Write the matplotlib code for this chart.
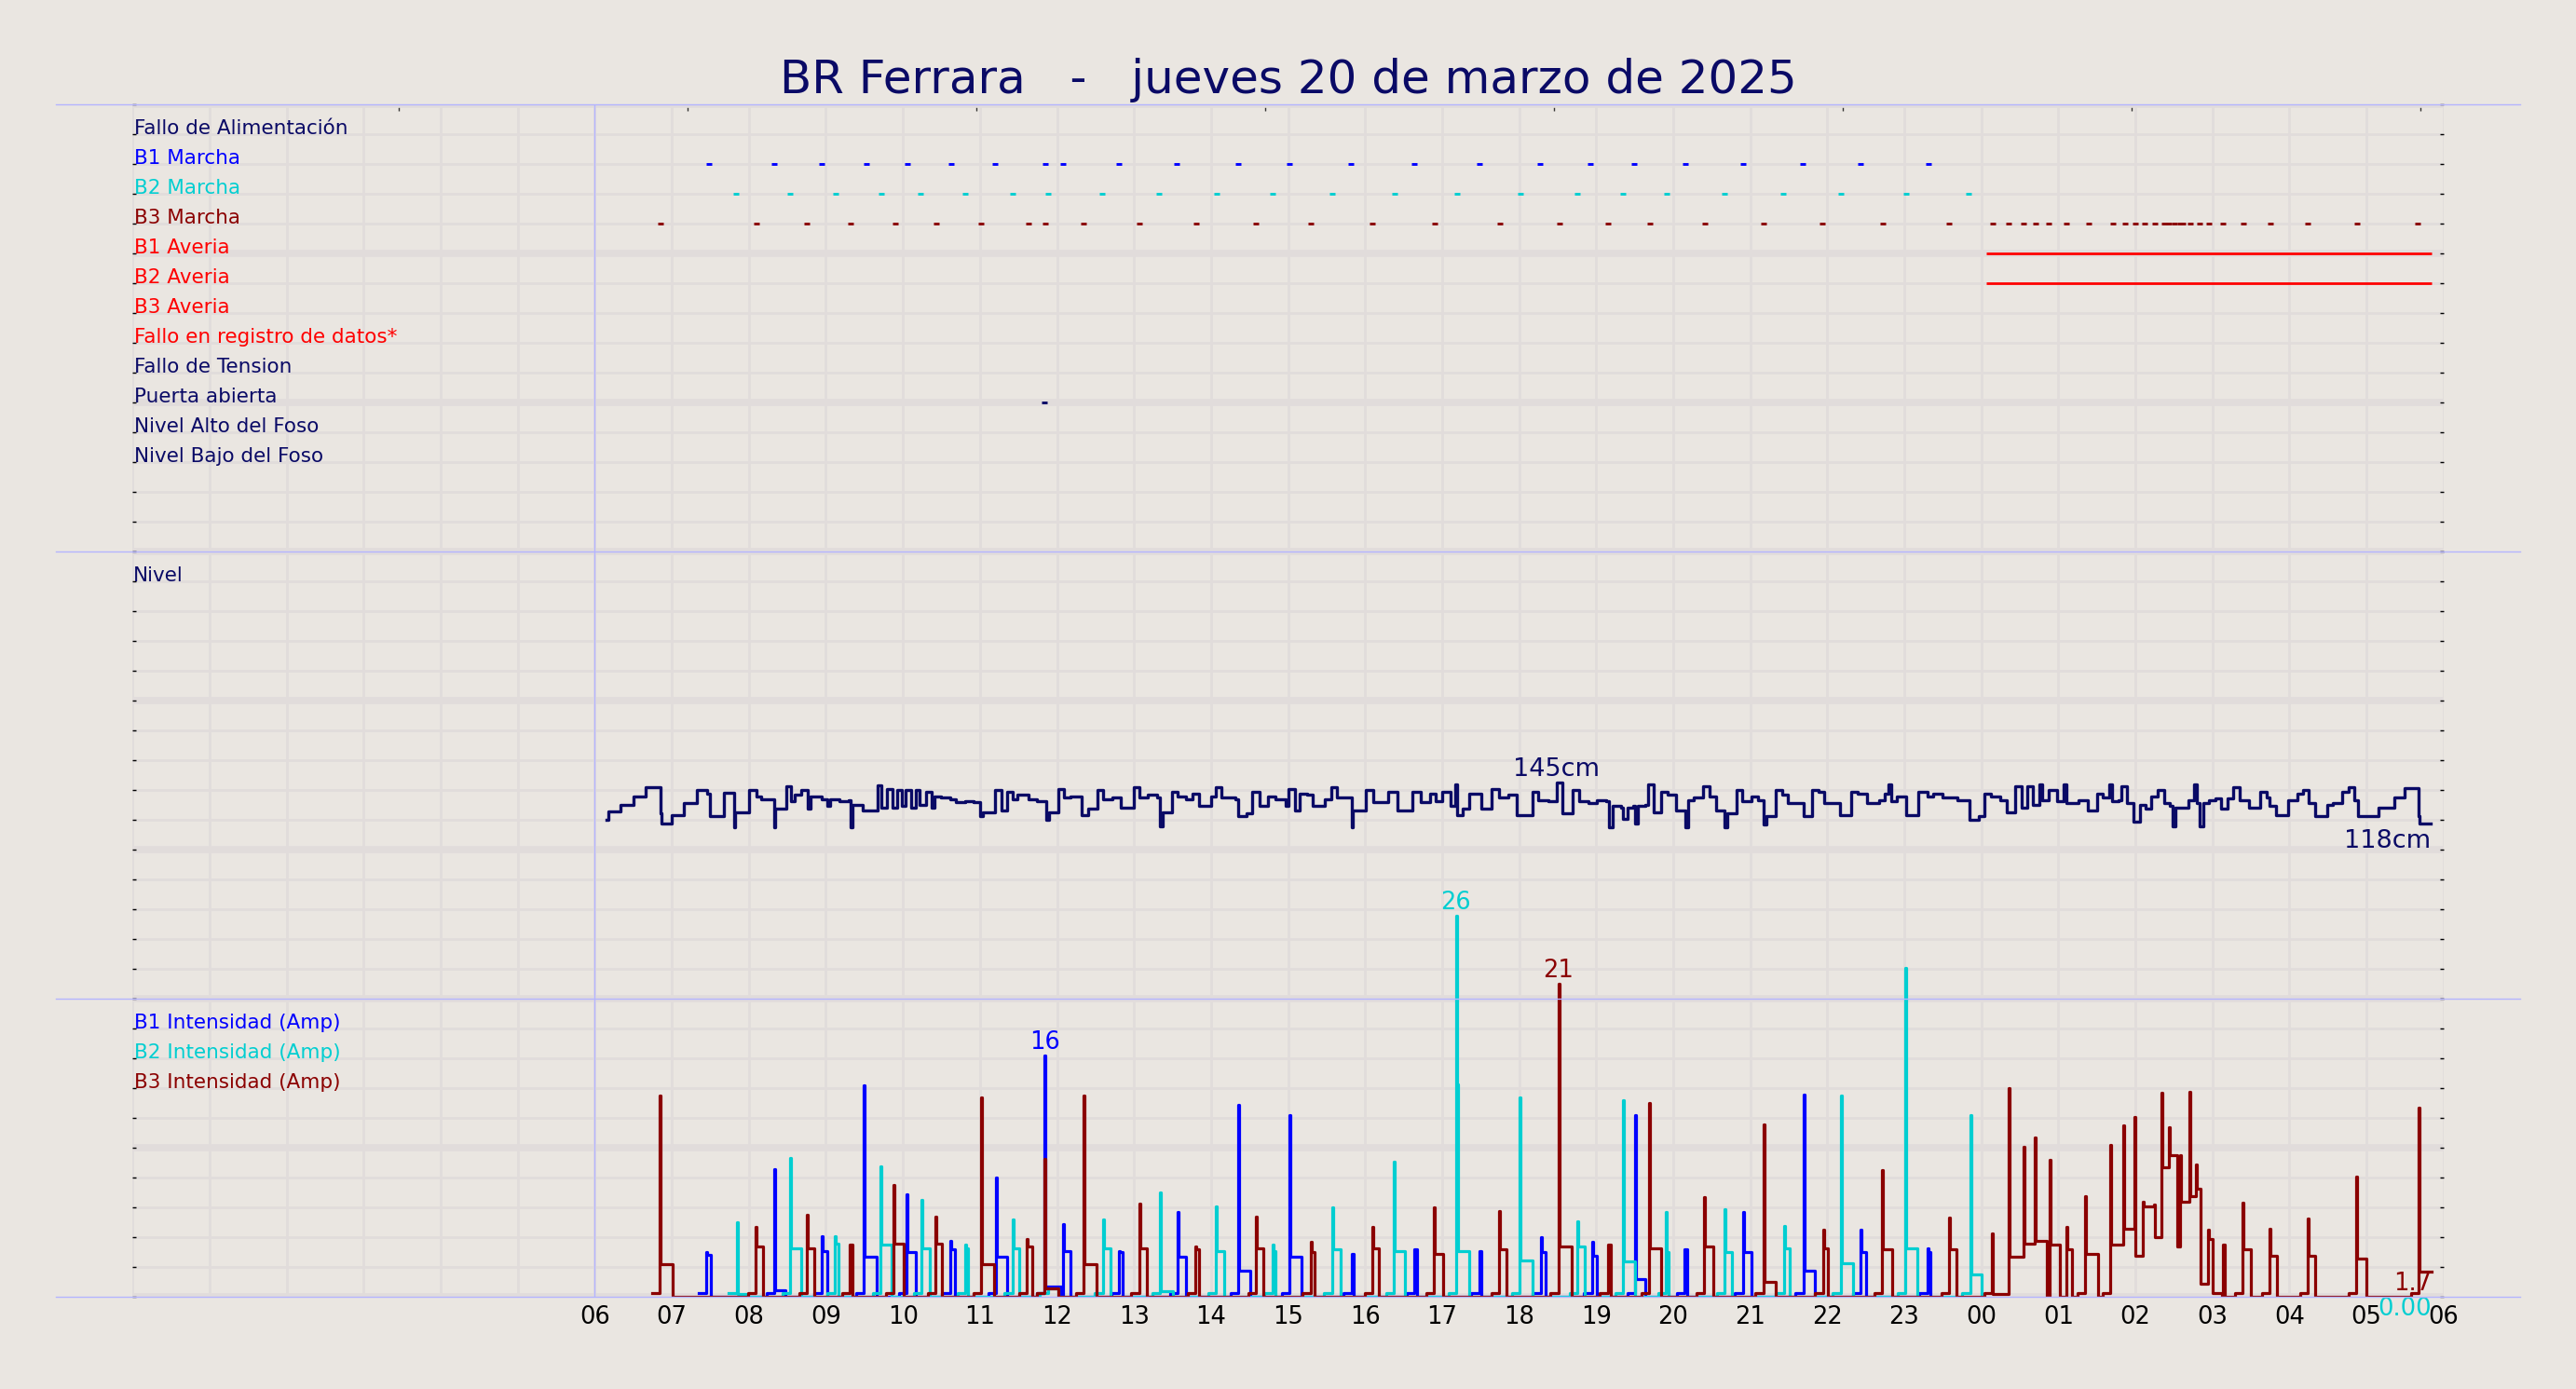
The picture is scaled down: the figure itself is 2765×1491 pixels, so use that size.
import numpy as np
import matplotlib
matplotlib.use("Agg")
import matplotlib.pyplot as plt
from matplotlib.lines import Line2D
from matplotlib.patches import Rectangle
from matplotlib.ticker import MultipleLocator

BG = '#eae6e1'
GRID = '#e1dcdb'
SEP = '#b4b4ff'
NAVY = '#0a0a66'
C_B1, C_B2, C_B3 = '#0000ff', '#00ced1', '#8b0000'

title = "BR Ferrara   -   jueves 20 de marzo de 2025"

status_labels = ["Fallo de Alimentación", "B1 Marcha", "B2 Marcha", "B3 Marcha",
                 "B1 Averia", "B2 Averia", "B3 Averia", "Fallo en registro de datos*",
                 "Fallo de Tension", "Puerta abierta", "Nivel Alto del Foso", "Nivel Bajo del Foso"]
status_colors = [NAVY, C_B1, C_B2, C_B3, 'red', 'red', 'red', 'red', NAVY, NAVY, NAVY, NAVY]

hour_labels = ["06", "07", "08", "09", "10", "11", "12", "13", "14", "15", "16", "17", "18",
               "19", "20", "21", "22", "23", "00", "01", "02", "03", "04", "05", "06"]
top_ticks = [3.45, 7.2, 10.95, 14.7, 18.45, 22.2, 25.95, 29.7]

# status events (hours from 00:00)
b1_marcha = [7.48, 8.33, 8.95, 9.53, 10.06, 10.63, 11.20, 11.85, 12.08, 12.81, 13.56, 14.35,
             15.02, 15.82, 16.64, 17.48, 18.27, 18.93, 19.49, 20.16, 20.91, 21.68, 22.43, 23.31]
b2_marcha = [7.83, 8.54, 9.13, 9.72, 10.23, 10.81, 11.42, 11.88, 12.59, 13.33, 14.07, 14.80,
             15.57, 16.39, 17.20, 18.02, 18.76, 19.35, 19.92, 20.67, 21.43, 22.18, 23.02, 23.84]
b3_marcha = [6.85, 8.10, 8.75, 9.32, 9.90, 10.43, 11.01, 11.63, 11.85, 12.35, 13.07, 13.81,
             14.58, 15.29, 16.10, 16.90, 17.75, 18.53, 19.15, 19.70, 20.41, 21.17, 21.94, 22.72,
             23.58, 24.15, 24.35, 24.55, 24.71, 24.88, 25.10, 25.39, 25.71, 25.87, 26.00, 26.12,
             26.26, 26.38, 26.44, 26.51, 26.58, 26.62, 26.71, 26.83, 26.96, 27.14, 27.40, 27.75,
             28.24, 28.88, 29.67]
puerta_abierta = [11.84]
averia_start, averia_end = 24.07, 29.85

# pit level (cm), step values
lvl_t = [6.155, 6.17, 6.33, 6.5, 6.66, 6.85, 6.865, 7.0, 7.16, 7.32,
         7.455, 7.495, 7.675, 7.805, 7.82, 8.0, 8.095, 8.155, 8.33, 8.345,
         8.485, 8.545, 8.595, 8.68, 8.765, 8.795, 8.95, 9.015, 9.055, 9.17,
         9.3, 9.325, 9.34, 9.48, 9.675, 9.715, 9.795, 9.87, 9.925, 9.99,
         10.04, 10.105, 10.165, 10.22, 10.3, 10.375, 10.415, 10.495, 10.61, 10.69,
         10.805, 10.92, 11.0, 11.04, 11.195, 11.275, 11.35, 11.43, 11.49, 11.625,
         11.74, 11.855, 11.895, 12.015, 12.09, 12.17, 12.325, 12.4, 12.52, 12.6,
         12.715, 12.83, 13.0, 13.065, 13.18, 13.3, 13.335, 13.375, 13.495, 13.57,
         13.67, 13.765, 13.845, 14.0, 14.06, 14.14, 14.31, 14.35, 14.465, 14.53,
         14.625, 14.74, 14.84, 14.975, 15.01, 15.09, 15.155, 15.245, 15.325, 15.48,
         15.56, 15.635, 15.83, 15.845, 16.01, 16.105, 16.3, 16.415, 16.61, 16.725,
         16.845, 16.92, 17.0, 17.115, 17.17, 17.19, 17.27, 17.35, 17.505, 17.645,
         17.74, 17.855, 17.97, 18.17, 18.25, 18.38, 18.485, 18.56, 18.7, 18.775,
         18.895, 19.01, 19.13, 19.17, 19.21, 19.325, 19.345, 19.405, 19.485, 19.51,
         19.54, 19.64, 19.68, 19.745, 19.84, 19.93, 20.035, 20.155, 20.19, 20.27,
         20.39, 20.47, 20.56, 20.665, 20.7, 20.82, 20.9, 21.02, 21.1, 21.175,
         21.215, 21.335, 21.41, 21.49, 21.69, 21.805, 21.885, 21.96, 22.16, 22.315,
         22.395, 22.515, 22.67, 22.75, 22.79, 22.83, 22.905, 23.025, 23.18, 23.3,
         23.38, 23.5, 23.615, 23.695, 23.85, 23.97, 24.045, 24.125, 24.245, 24.325,
         24.44, 24.52, 24.6, 24.675, 24.755, 24.795, 24.875, 24.99, 25.07, 25.11,
         25.265, 25.385, 25.505, 25.58, 25.66, 25.7, 25.78, 25.82, 25.895, 25.975,
         26.055, 26.13, 26.21, 26.29, 26.37, 26.445, 26.485, 26.525, 26.685, 26.76,
         26.8, 26.84, 26.88, 26.96, 27.035, 27.115, 27.195, 27.275, 27.35, 27.47,
         27.625, 27.705, 27.745, 27.825, 27.98, 28.1, 28.18, 28.255, 28.335, 28.495,
         28.57, 28.69, 28.77, 28.845, 28.885, 29.16, 29.36, 29.5, 29.675, 29.69,
         29.83]
lvl_v = [120, 126, 130.5, 136, 142, 124.5, 118, 123.5, 131.5, 140.5,
         138, 122.5, 138.5, 115, 125, 140, 136, 134, 115, 127.5,
         142.5, 132.5, 137, 140, 128, 136, 134, 129.5, 134, 132.5,
         133.5, 115, 130, 126.5, 143.5, 128.5, 141, 128.5, 140, 129.5,
         140, 128.5, 140, 130.5, 139, 128.5, 136, 135, 134, 132,
         132.5, 132, 122.5, 125.5, 140, 126.5, 139, 134, 137, 134,
         132.5, 120, 125.5, 141, 135, 136, 123.5, 127.5, 140.5, 134,
         135, 128.5, 142, 135, 137, 135, 116, 125.5, 139, 136,
         134, 138, 129.5, 136, 142, 135, 134, 122.5, 124.5, 139,
         129.5, 136, 134, 129.5, 141, 126.5, 138, 137, 129.5, 134,
         142, 135, 115, 126.5, 140.5, 132, 139, 126.5, 139, 132,
         138, 133, 139, 129.5, 144, 123.5, 127.5, 138, 127.5, 141,
         135, 137, 123.5, 139, 133.5, 132.5, 145, 124.5, 140, 132.5,
         131.5, 133.5, 132.5, 115, 129.5, 128.5, 121, 128.5, 129.5, 118,
         129.5, 130.5, 144, 125.5, 139, 137, 126.5, 115, 133.5, 135,
         143, 136, 126.5, 115, 124.5, 140, 132.5, 136, 133.5, 117,
         122.5, 140, 137, 131.5, 122.5, 140.5, 139, 131.5, 123.5, 139,
         138, 131.5, 133.5, 138, 144, 132.5, 136, 123.5, 139, 136,
         138, 135, 135, 133.5, 120, 122.5, 138, 136, 133.5, 125.5,
         143, 128.5, 143, 130.5, 144, 133.5, 140, 132.5, 144, 131.5,
         133.5, 126.5, 138, 135, 144, 132.5, 133.5, 143, 131.5, 119,
         130.5, 127.5, 136, 140, 131.5, 129.5, 116, 128.5, 133.5, 144,
         131.5, 116, 131.5, 133.5, 134.5, 127.5, 134.5, 142, 133.5, 128.5,
         139, 135.5, 129.5, 123.5, 133.5, 138, 140, 131.5, 122.5, 130.5,
         131.5, 139, 142, 133.5, 122.5, 128.5, 135.5, 141.5, 122.5, 117.5,
         117.5]

# pump runs: start hour, starting peak (A), running current (A), stop hour
b1_start = [7.45, 8.33, 8.945, 9.495, 10.05, 10.61, 11.21, 11.84, 12.08, 12.81, 13.57, 14.35,
            15.02, 15.825, 16.64, 17.48, 18.28, 18.945, 19.51, 20.15, 20.905, 21.69, 22.43, 23.30]
b1_peak = [3.0, 8.6, 4.1, 14.2, 6.9, 3.8, 8.0, 16.2, 4.9, 3.1, 5.7, 12.9,
           12.2, 2.9, 3.2, 3.1, 4.0, 3.7, 12.2, 3.2, 5.7, 13.6, 4.5, 3.3]
b1_level = [2.85, 0.45, 3.1, 2.7, 3.0, 3.2, 2.7, 0.7, 3.1, 3.0, 2.7, 1.75,
            2.7, 2.9, 3.2, 3.1, 3.0, 2.75, 1.2, 3.2, 3.0, 1.8, 3.0, 3.0]
b1_end = [7.51, 8.47, 9.02, 9.665, 10.17, 10.675, 11.35, 12.06, 12.17, 12.85, 13.675, 14.505,
          15.17, 15.85, 16.68, 17.51, 18.34, 19.01, 19.64, 20.185, 21.015, 21.845, 22.505, 23.34]

b2_start = [7.84, 8.535, 9.12, 9.71, 10.24, 10.81, 11.42, 11.88, 12.595, 13.34, 14.067, 14.795,
            15.57, 16.375, 17.18, 17.21, 18.01, 18.755, 19.35, 19.91, 20.67, 21.435, 22.175,
            23.01, 23.03, 23.855]
b2_peak = [5.0, 9.35, 4.1, 8.8, 6.5, 3.5, 5.2, 0.6, 5.2, 7.0, 6.1, 3.5,
           6.0, 9.1, 25.6, 3.1, 13.4, 5.1, 13.2, 5.7, 5.9, 4.8, 13.5,
           22.1, 3.3, 12.2]
b2_level = [0.2, 3.3, 3.6, 3.5, 3.3, 3.3, 3.3, 0.6, 3.3, 0.4, 3.1, 3.1,
            3.2, 3.1, 14.3, 3.1, 2.45, 3.4, 2.4, 3.0, 3.0, 3.3, 2.3,
            14.7, 3.3, 1.55]
b2_end = [7.99, 8.68, 9.16, 9.85, 10.345, 10.845, 11.51, 12.02, 12.69, 13.51, 14.175, 14.84,
          15.68, 16.515, 17.21, 17.35, 18.17, 18.85, 19.51, 19.94, 20.76, 21.51, 22.34,
          23.03, 23.17, 24.01]

b3_start = [6.84, 8.085, 8.75, 9.31, 9.88, 10.42, 11.015, 11.61, 11.84, 12.345, 13.065, 13.80,
            14.585, 15.29, 16.10, 16.895, 17.745, 18.51, 18.53, 19.15, 19.69, 20.40, 21.17,
            21.945, 22.715, 23.585,
            24.14, 24.354, 24.547, 24.697, 24.884, 25.106, 25.347, 25.678, 25.846, 25.985,
            26.099, 26.237, 26.34, 26.43, 26.55, 26.58, 26.70, 26.79, 26.85, 26.94,
            27.0, 27.14, 27.39, 27.74, 28.235, 28.865, 29.68]
b3_peak = [13.5, 4.7, 5.5, 3.5, 7.5, 5.4, 13.4, 3.9, 9.3, 13.5, 6.3, 3.4,
           5.4, 3.7, 4.7, 6.0, 5.8, 21.0, 3.4, 3.5, 13.0, 6.7, 11.6,
           4.5, 8.5, 5.35,
           4.3, 14.0, 10.1, 10.7, 9.2, 4.7, 6.8, 10.2, 11.5, 12.1,
           6.4, 6.2, 13.7, 11.4, 3.4, 9.5, 13.8, 8.9, 0.9, 4.5,
           0.3, 3.5, 6.35, 4.6, 5.3, 8.1, 12.7]
b3_level = [2.2, 3.4, 3.3, 3.5, 3.6, 3.6, 2.2, 3.4, 0.6, 2.2, 3.3, 3.2,
            3.3, 3.0, 3.3, 2.9, 3.2, 14.7, 3.4, 3.5, 3.3, 3.4, 1.05,
            3.3, 3.2, 3.2,
            0.2, 2.7, 3.6, 3.8, 3.5, 3.2, 2.9, 3.5, 4.6, 2.75,
            6.1, 4.0, 8.7, 9.5, 3.4, 6.4, 6.8, 7.3, 0.9, 3.9,
            0.3, 3.5, 3.2, 2.8, 2.75, 2.6, 1.7]
b3_end = [7.01, 8.18, 8.85, 9.35, 10.01, 10.51, 11.18, 11.68, 12.02, 12.51, 13.17, 13.845,
          14.675, 15.34, 16.175, 17.01, 17.835, 18.53, 18.68, 19.19, 19.845, 20.515, 21.33,
          22.005, 22.84, 23.675,
          24.354, 24.547, 24.697, 24.853, 25.016, 25.178, 25.515, 25.846, 25.985, 26.099,
          26.237, 26.34, 26.43, 26.55, 26.58, 26.70, 26.79, 26.85, 26.94, 27.0,
          27.12, 27.165, 27.5, 27.844, 28.337, 29.005, 29.85]

idle_amp = 0.25     # standby reading just before a start
idle_lead = 0.1     # hours
spike = 0.012       # hours the start peak lasts


def runs_to_steps(start, peak, level, end, keep_last=False):
    xs, ys = [], []
    prev_end = -1.0
    for s, p, l, e in zip(start, peak, level, end):
        if s - prev_end <= 1e-9 and xs:
            xs.pop(); ys.pop()
        elif s - prev_end > idle_lead:
            xs.append(s - idle_lead); ys.append(idle_amp)
        xs += [s, s + spike, e]
        ys += [p, l, 0.0]
        prev_end = e
    if keep_last:
        ys[-1] = ys[-2]
    return xs, ys


W_PX, H_PX = 2765, 1491
fig = plt.figure(figsize=(W_PX / 100, H_PX / 100), dpi=100, facecolor=BG)

x0, x1 = 142.4, 2622.7


def px_axes(top, bottom):
    return fig.add_axes([x0 / W_PX, 1 - bottom / H_PX, (x1 - x0) / W_PX, (bottom - top) / H_PX])


ax_st = px_axes(112.3, 592.3)
ax_lv = px_axes(592.3, 1072.3)
ax_am = px_axes(1072.3, 1392.3)

for ax in (ax_st, ax_lv, ax_am):
    ax.set_facecolor(BG)
    ax.set_xlim(0, 30)
    for sp in ax.spines.values():
        sp.set_visible(False)
    ax.set_axisbelow(True)
    ax.set_xticks(np.arange(0, 31))
    ax.grid(True, which='major', axis='x', color=GRID, lw=2)
    ax.grid(True, which='minor', axis='y', color=GRID, lw=2)
    ax.grid(True, which='major', axis='y', color=GRID, lw=5.5)
    ax.tick_params(axis='y', which='both', direction='in', length=3, width=1, color='black',
                   left=True, right=True, labelleft=False)
    ax.tick_params(axis='x', which='both', length=0, labelbottom=False)
    ax.axvline(6, color=SEP, lw=1, zorder=1.5)

# status panel
ax_st.set_ylim(15, 0)
ax_st.yaxis.set_major_locator(MultipleLocator(5))
ax_st.yaxis.set_minor_locator(MultipleLocator(1))
for i, (lab, col) in enumerate(zip(status_labels, status_colors)):
    ax_st.text(0.02, i + 1, lab, color=col, fontsize=15.5, ha='left', va='baseline')
for ev, row, col in ((b1_marcha, 2, C_B1), (b2_marcha, 3, C_B2), (b3_marcha, 4, C_B3),
                     (puerta_abierta, 10, NAVY)):
    ax_st.plot(ev, [row] * len(ev), ls='none', marker='_', ms=4, mew=2.1, color=col)
ax_st.hlines([5, 6], averia_start, averia_end, color='red', lw=2)
sec = ax_st.secondary_xaxis('top')
sec.set_xticks(top_ticks)
sec.tick_params(direction='in', length=5, width=1, color='#333333', labeltop=False)
for sp in sec.spines.values():
    sp.set_visible(False)

# level panel
ax_lv.set_ylim(0, 300)
ax_lv.yaxis.set_major_locator(MultipleLocator(100))
ax_lv.yaxis.set_minor_locator(MultipleLocator(20))
ax_lv.text(0.0, 280, "Nivel", color=NAVY, fontsize=15.5, ha='left', va='baseline')
ax_lv.plot(lvl_t, lvl_v, drawstyle='steps-post', color=NAVY, lw=2.4)
imax = int(np.argmax(lvl_v))
ax_lv.annotate(f"{lvl_v[imax]:.0f}cm", (lvl_t[imax], lvl_v[imax]), xytext=(0, 5),
               textcoords='offset points', ha='center', va='baseline', fontsize=19.5, color=NAVY)
ax_lv.annotate(f"{lvl_v[-1]:.0f}cm", (lvl_t[-1], lvl_v[-1]), xytext=(0, -4),
               textcoords='offset points', ha='right', va='top', fontsize=19.5, color=NAVY)

# current panel
ax_am.set_ylim(0, 20)
ax_am.yaxis.set_major_locator(MultipleLocator(10))
ax_am.yaxis.set_minor_locator(MultipleLocator(2))
for lab, yv, col in (("B1 Intensidad (Amp)", 18, C_B1), ("B2 Intensidad (Amp)", 16, C_B2),
                     ("B3 Intensidad (Amp)", 14, C_B3)):
    ax_am.text(0.02, yv, lab, color=col, fontsize=15.5, ha='left', va='baseline')

series = ((b1_start, b1_peak, b1_level, b1_end, C_B1, False),
          (b2_start, b2_peak, b2_level, b2_end, C_B2, False),
          (b3_start, b3_peak, b3_level, b3_end, C_B3, True))
for st, pk, lv, en, col, keep in series:
    xs, ys = runs_to_steps(st, pk, lv, en, keep)
    ln, = ax_am.plot(xs, ys, drawstyle='steps-post', color=col, lw=2.3)
    clip = Rectangle((0, 0), 1, 2, transform=ax_am.transAxes)
    ln.set_clip_path(clip)
    k = int(np.argmax(pk))
    ax_am.annotate(f"{pk[k]:.0f}", (st[k], pk[k]), xytext=(0, 5), textcoords='offset points',
                   ha='center', va='baseline', fontsize=18.5, color=col, annotation_clip=False)

t_last = b3_end[-1]
ax_am.text(t_last, b3_level[-1], f"{b3_level[-1]:.1f}", color=C_B3, fontsize=18.5,
           ha='right', va='top')
ax_am.text(t_last, 0, f"{0:.2f}", color=C_B2, fontsize=18.5, ha='right', va='top')

ax_am.set_xticks(np.arange(0, 31), [''] * 6 + hour_labels)
ax_am.tick_params(axis='x', labelbottom=True, labelsize=18.5, pad=6, colors='black')

# separators
for ypx in (112.3, 592.3, 1072.3, 1392.3):
    yf = 1 - ypx / H_PX
    fig.add_artist(Line2D([60 / W_PX, 2705 / W_PX], [yf, yf], transform=fig.transFigure,
                          color=SEP, lw=1, zorder=10))

fig.text(0.5, 1 - 100 / H_PX, title, ha='center', va='baseline', fontsize=36, color=NAVY)

fig.savefig("out.png", dpi=100, facecolor=BG)
